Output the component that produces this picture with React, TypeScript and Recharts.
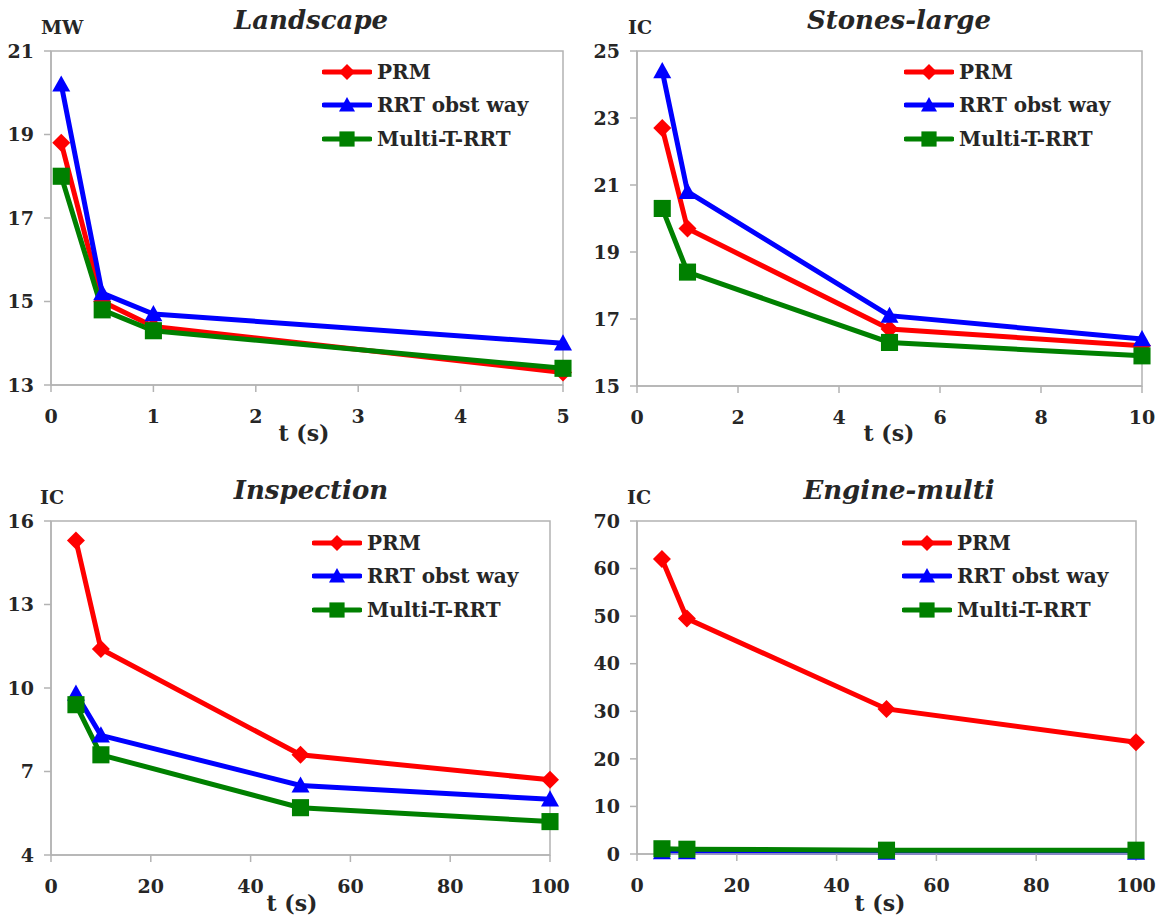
import { LineChart, Line, XAxis, YAxis, ReferenceArea } from "recharts";

// Landscape (MW)
const landscapeT = [0.1, 0.5, 1, 5];
const landscapePRM = [18.8, 15.0, 14.4, 13.3];
const landscapeRRT = [20.2, 15.2, 14.7, 14.0];
const landscapeMulti = [18.0, 14.8, 14.3, 13.4];
const landscapeXTicks = [0, 1, 2, 3, 4, 5];
const landscapeYTicks = [13, 15, 17, 19, 21];

// Stones-large (IC)
const stonesT = [0.5, 1, 5, 10];
const stonesPRM = [22.7, 19.7, 16.7, 16.2];
const stonesRRT = [24.4, 20.8, 17.1, 16.4];
const stonesMulti = [20.3, 18.4, 16.3, 15.9];
const stonesXTicks = [0, 2, 4, 6, 8, 10];
const stonesYTicks = [15, 17, 19, 21, 23, 25];

// Inspection (IC)
const inspectionT = [5, 10, 50, 100];
const inspectionPRM = [15.3, 11.4, 7.6, 6.7];
const inspectionRRT = [9.8, 8.3, 6.5, 6.0];
const inspectionMulti = [9.4, 7.6, 5.7, 5.2];
const inspectionXTicks = [0, 20, 40, 60, 80, 100];
const inspectionYTicks = [4, 7, 10, 13, 16];

// Engine-multi (IC)
const engineT = [5, 10, 50, 100];
const enginePRM = [62, 49.5, 30.5, 23.5];
const engineRRT = [0.4, 0.4, 0.3, 0.3];
const engineMulti = [1.1, 1.0, 0.8, 0.8];
const engineXTicks = [0, 20, 40, 60, 80, 100];
const engineYTicks = [0, 10, 20, 30, 40, 50, 60, 70];

const seriesNames = ["PRM", "RRT obst way", "Multi-T-RRT"];
const seriesColors = ["#ff0000", "#0000ff", "#008000"];
const seriesShapes = ["diamond", "triangle", "square"];

const FONT = "'DejaVu Serif', serif";
const AXIS = "#b3b3b3";
const TEXT = "#262626";

const toRows = (t: number[], a: number[], b: number[], c: number[]) =>
  t.map((x, i) => ({ t: x, prm: a[i], rrt: b[i], multi: c[i] }));

function markerPath(shape: string, cx: number, cy: number, r: number) {
  if (shape === "diamond") return `M${cx},${cy - r} L${cx + r},${cy} L${cx},${cy + r} L${cx - r},${cy} Z`;
  if (shape === "triangle") return `M${cx},${cy - r} L${cx + r},${cy + r * 0.8} L${cx - r},${cy + r * 0.8} Z`;
  const s = r * 0.95;
  return `M${cx - s},${cy - s} L${cx + s},${cy - s} L${cx + s},${cy + s} L${cx - s},${cy + s} Z`;
}

const makeDot = (shape: string, color: string) => (props: any) => {
  const { cx, cy, index } = props;
  if (cx == null || cy == null) return <g key={index} />;
  return <path key={index} d={markerPath(shape, cx, cy, 9)} fill={color} stroke="none" />;
};

function PanelLegend({ left, top }: { left: number; top: number }) {
  const rows = [0, 33, 67];
  return (
    <div style={{ position: "absolute", left, top: 0, width: 260, height: 200 }}>
      {seriesNames.map((name, i) => (
        <div
          key={name}
          style={{
            position: "absolute",
            left: 0,
            top: top + rows[i] - 12,
            height: 24,
            display: "flex",
            alignItems: "center",
            whiteSpace: "nowrap",
          }}
        >
          <svg width={50} height={24}>
            <line x1={2} y1={12} x2={48} y2={12} stroke={seriesColors[i]} strokeWidth={5} strokeLinecap="round" />
            <path d={markerPath(seriesShapes[i], 25, 12, 8)} fill={seriesColors[i]} />
          </svg>
          <span style={{ marginLeft: 5, fontFamily: FONT, fontWeight: 700, fontSize: 20, color: TEXT }}>{name}</span>
        </div>
      ))}
    </div>
  );
}

function Centered({ x, y, children, style }: any) {
  return (
    <div
      style={{
        position: "absolute",
        left: x,
        top: y,
        transform: "translate(-50%, -50%)",
        whiteSpace: "nowrap",
        lineHeight: 1,
        fontFamily: FONT,
        color: TEXT,
        ...style,
      }}
    >
      {children}
    </div>
  );
}

type PanelProps = {
  title: string;
  unit: string;
  rows: any[];
  xTicks: number[];
  yTicks: number[];
  margin: { top: number; right: number; bottom: number; left: number };
  yWidth: number;
  titleX: number;
  titleY: number;
  unitX: number;
  unitY: number;
  legendX: number;
  legendY: number;
  xlabelX: number;
  xlabelY: number;
};

function Panel(p: PanelProps) {
  const xMax = p.xTicks[p.xTicks.length - 1];
  const yMin = p.yTicks[0];
  const yMax = p.yTicks[p.yTicks.length - 1];
  const tickStyle = { fontFamily: FONT, fontWeight: 700, fontSize: 19, fill: TEXT };
  return (
    <div style={{ position: "relative", width: 581, height: 460 }}>
      <LineChart width={581} height={460} data={p.rows} margin={p.margin}>
        <XAxis
          dataKey="t"
          type="number"
          domain={[0, xMax]}
          ticks={p.xTicks}
          interval={0}
          height={60}
          tickSize={7}
          tickMargin={18}
          stroke={AXIS}
          strokeWidth={1.5}
          tick={tickStyle}
        />
        <YAxis
          type="number"
          domain={[yMin, yMax]}
          ticks={p.yTicks}
          interval={0}
          width={p.yWidth}
          tickSize={7}
          tickMargin={10}
          stroke={AXIS}
          strokeWidth={1.5}
          tick={tickStyle}
        />
        <ReferenceArea x1={0} x2={xMax} y1={yMin} y2={yMax} fill="none" fillOpacity={0} stroke={AXIS} strokeWidth={1.5} />
        <Line dataKey="prm" stroke={seriesColors[0]} strokeWidth={5} dot={makeDot("diamond", seriesColors[0])} activeDot={false} isAnimationActive={false} />
        <Line dataKey="rrt" stroke={seriesColors[1]} strokeWidth={5} dot={makeDot("triangle", seriesColors[1])} activeDot={false} isAnimationActive={false} />
        <Line dataKey="multi" stroke={seriesColors[2]} strokeWidth={5} dot={makeDot("square", seriesColors[2])} activeDot={false} isAnimationActive={false} />
      </LineChart>
      <Centered x={p.titleX} y={p.titleY} style={{ fontSize: 26, fontWeight: 700, fontStyle: "italic" }}>
        {p.title}
      </Centered>
      <div style={{ position: "absolute", left: p.unitX, top: p.unitY - 10, fontFamily: FONT, fontWeight: 700, fontSize: 19, color: TEXT, lineHeight: "20px" }}>
        {p.unit}
      </div>
      <Centered x={p.xlabelX} y={p.xlabelY} style={{ fontSize: 22, fontWeight: 700 }}>
        t (s)
      </Centered>
      <PanelLegend left={p.legendX} top={p.legendY} />
    </div>
  );
}

export default function App() {
  return (
    <div style={{ position: "absolute", left: 0, top: 0, width: 1162, height: 920, background: "#fff", display: "flex", flexWrap: "wrap" }}>
      <Panel
        title="Landscape"
        unit="MW"
        rows={toRows(landscapeT, landscapePRM, landscapeRRT, landscapeMulti)}
        xTicks={landscapeXTicks}
        yTicks={landscapeYTicks}
        margin={{ top: 51, right: 18, bottom: 15, left: 0 }}
        yWidth={51}
        titleX={311}
        titleY={20}
        unitX={41}
        unitY={27}
        legendX={322}
        legendY={72}
        xlabelX={304}
        xlabelY={433}
      />
      <Panel
        title="Stones-large"
        unit="IC"
        rows={toRows(stonesT, stonesPRM, stonesRRT, stonesMulti)}
        xTicks={stonesXTicks}
        yTicks={stonesYTicks}
        margin={{ top: 51, right: 20, bottom: 14, left: 0 }}
        yWidth={56}
        titleX={318}
        titleY={20}
        unitX={47}
        unitY={27}
        legendX={323}
        legendY={72}
        xlabelX={308}
        xlabelY={433}
      />
      <Panel
        title="Inspection"
        unit="IC"
        rows={toRows(inspectionT, inspectionPRM, inspectionRRT, inspectionMulti)}
        xTicks={inspectionXTicks}
        yTicks={inspectionYTicks}
        margin={{ top: 61, right: 31, bottom: 5, left: 0 }}
        yWidth={51}
        titleX={311}
        titleY={30}
        unitX={40}
        unitY={37}
        legendX={312}
        legendY={83}
        xlabelX={292}
        xlabelY={443}
      />
      <Panel
        title="Engine-multi"
        unit="IC"
        rows={toRows(engineT, enginePRM, engineRRT, engineMulti)}
        xTicks={engineXTicks}
        yTicks={engineYTicks}
        margin={{ top: 61, right: 26, bottom: 6, left: 0 }}
        yWidth={56}
        titleX={318}
        titleY={30}
        unitX={46}
        unitY={37}
        legendX={321}
        legendY={83}
        xlabelX={299}
        xlabelY={443}
      />
    </div>
  );
}
